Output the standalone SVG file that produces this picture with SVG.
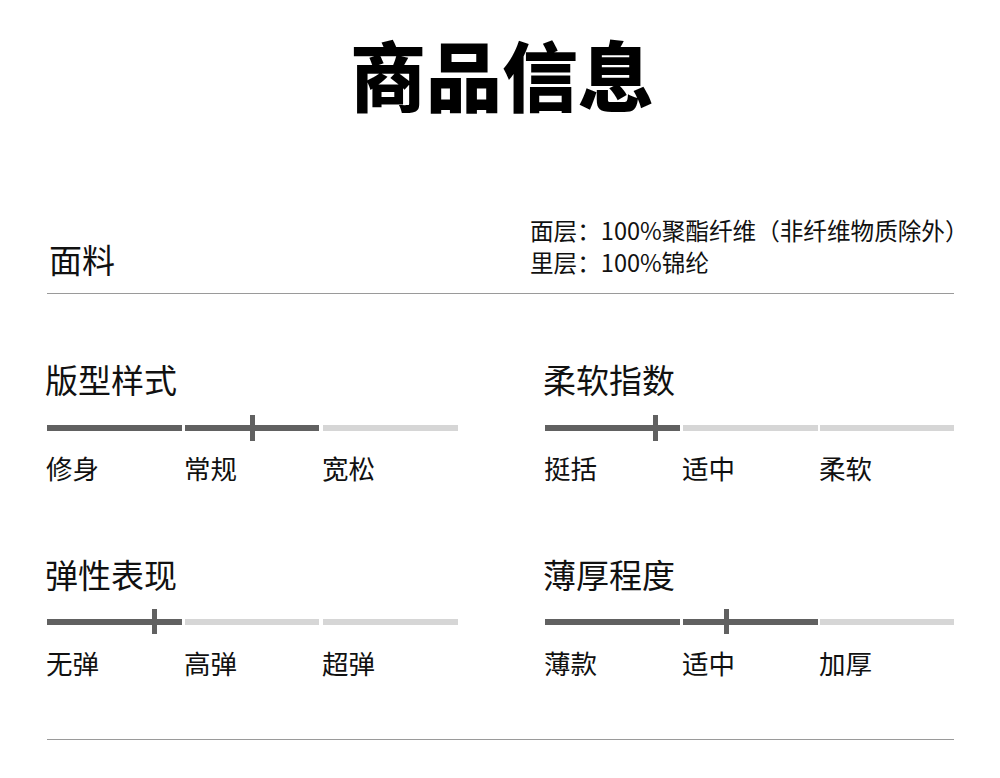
<svg xmlns="http://www.w3.org/2000/svg" width="1000" height="778" viewBox="0 0 1000 778">
<style>
text{font-family:"Noto Sans CJK SC","Noto Sans",sans-serif;fill:#111}
.title{font-size:76px;font-weight:900;fill:#000}
.h{font-size:33px}
.m{font-size:23.6px}
.l{font-size:26.5px}
.d{fill:#616161}
.g{fill:#d6d6d6}
.sep{stroke:#9a9a9a;stroke-width:1}
</style>
<rect width="1000" height="778" fill="#fff"/>
<g id="title"><text class="title" x="502" y="106" text-anchor="middle">商品信息</text></g>
<g id="fabric">
<text class="h" x="49" y="273">面料</text>
<text class="m" x="530" y="240">面层：100%聚酯纤维（非纤维物质除外）</text>
<text class="m" x="530" y="272">里层：100%锦纶</text>
<line class="sep" x1="47" y1="293.5" x2="954" y2="293.5"/>
</g>
<g id="fit">
<text class="h" x="45" y="393">版型样式</text>
<rect class="d" x="47" y="425" width="135" height="6"/>
<rect class="d" x="185" y="425" width="134" height="6"/>
<rect class="g" x="323" y="425" width="135" height="6"/>
<rect class="d" x="250" y="415" width="5" height="26"/>
<text class="l" x="46" y="479">修身</text>
<text class="l" x="184" y="479">常规</text>
<text class="l" x="322" y="479">宽松</text>
</g>
<g id="softness">
<text class="h" x="543" y="393">柔软指数</text>
<rect class="d" x="545" y="425" width="135" height="6"/>
<rect class="g" x="683" y="425" width="135" height="6"/>
<rect class="g" x="820" y="425" width="134" height="6"/>
<rect class="d" x="653" y="415" width="5" height="26"/>
<text class="l" x="544" y="479">挺括</text>
<text class="l" x="682" y="479">适中</text>
<text class="l" x="819" y="479">柔软</text>
</g>
<g id="elasticity">
<text class="h" x="45" y="588">弹性表现</text>
<rect class="d" x="47" y="619" width="135" height="6"/>
<rect class="g" x="185" y="619" width="134" height="6"/>
<rect class="g" x="323" y="619" width="135" height="6"/>
<rect class="d" x="152" y="609" width="5" height="25"/>
<text class="l" x="46" y="674">无弹</text>
<text class="l" x="184" y="674">高弹</text>
<text class="l" x="322" y="674">超弹</text>
</g>
<g id="thickness">
<text class="h" x="543" y="588">薄厚程度</text>
<rect class="d" x="545" y="619" width="135" height="6"/>
<rect class="d" x="683" y="619" width="135" height="6"/>
<rect class="g" x="820" y="619" width="134" height="6"/>
<rect class="d" x="724" y="609" width="5" height="25"/>
<text class="l" x="544" y="674">薄款</text>
<text class="l" x="682" y="674">适中</text>
<text class="l" x="819" y="674">加厚</text>
</g>
<g id="connectors"></g>
<line class="sep" x1="47" y1="739.5" x2="954" y2="739.5"/>
</svg>
